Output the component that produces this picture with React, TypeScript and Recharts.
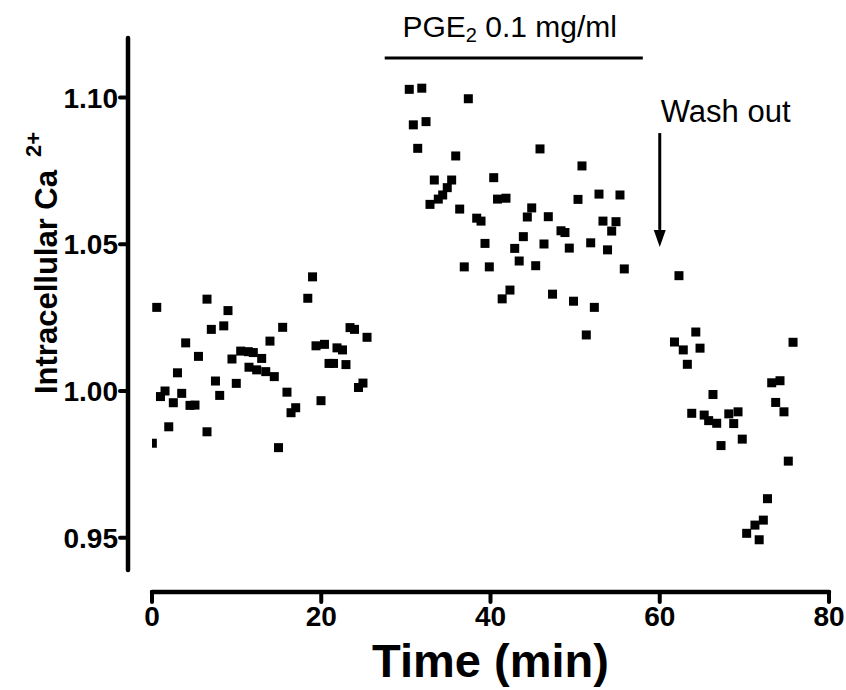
import { Label, ReferenceLine, Scatter, ScatterChart, XAxis, YAxis } from "recharts";

// baseline period (min / normalised Ca2+ ratio)
const baselineTime = [
  0.04, 0.56, 1.0, 1.54, 1.98, 2.52, 3.01, 3.51, 3.98, 4.49, 5.08, 5.49, 6.5, 6.5, 7.01, 7.5, 8.0,
  8.48, 8.98, 9.45, 9.96, 10.48, 11.38, 11.46, 11.97, 12.37, 12.96, 13.44, 13.94, 14.45, 14.95,
  15.44, 15.95, 16.43, 16.98, 18.41, 18.97, 19.38, 19.97, 20.38, 20.92, 21.45, 21.86, 22.51, 22.92,
  23.4, 23.93, 24.4, 24.93, 25.41,
];
const baselineCa = [
  0.9822, 1.0285, 0.9981, 1.0, 0.9878, 0.996, 1.0062, 0.9992, 1.0164, 0.9951, 0.9952, 1.0118,
  1.0313, 0.9861, 1.021, 1.0034, 0.9985, 1.0222, 1.0274, 1.0109, 1.0026, 1.0136, 1.0134, 1.0081,
  1.0131, 1.0072, 1.0111, 1.0066, 1.017, 1.0049, 0.9807, 1.0217, 0.9996, 0.9926, 0.9943, 1.0316,
  1.0389, 1.0154, 0.9967, 1.0159, 1.0094, 1.0094, 1.0147, 1.014, 1.009, 1.0216, 1.021, 1.0012,
  1.0027, 1.0183,
];

// PGE2 0.1 mg/ml
const pgeTime = [
  30.4, 30.88, 31.4, 31.88, 32.38, 32.85, 33.36, 33.83, 34.35, 34.89, 35.41, 35.89, 36.36, 36.9,
  37.38, 38.37, 38.88, 39.35, 39.86, 40.38, 40.83, 41.38, 41.83, 42.3, 42.86, 43.39, 43.88, 44.35,
  44.87, 45.34, 45.85, 46.32, 46.83, 47.33, 48.33, 48.8, 49.31, 49.81, 50.34, 50.81, 51.32, 51.84,
  52.27, 52.82, 53.29, 53.83, 54.32, 54.83, 55.3, 55.81,
];
const pgeCa = [
  1.1028, 1.0907, 1.0827, 1.1032, 1.0918, 1.0636, 1.0719, 1.0654, 1.0668, 1.0693, 1.0719, 1.0801,
  1.062, 1.0423, 1.0996, 1.0589, 1.0579, 1.0503, 1.0423, 1.0727, 1.0654, 1.0314, 1.0657, 1.0344,
  1.0486, 1.0443, 1.0526, 1.0593, 1.0624, 1.0427, 1.0825, 1.0501, 1.0594, 1.033, 1.0546, 1.054,
  1.0487, 1.0306, 1.0653, 1.0767, 1.0191, 1.0505, 1.0285, 1.0671, 1.0579, 1.0481, 1.0545, 1.0577,
  1.0668, 1.0416,
];

// wash out
const washTime = [
  61.74, 62.27, 62.78, 63.26, 63.78, 64.26, 64.76, 65.25, 65.78, 66.29, 66.73, 67.24, 68.16, 68.74,
  69.25, 69.75, 70.27, 71.25, 71.75, 72.24, 72.73, 73.23, 73.7, 74.21, 74.68, 75.19, 75.75,
];
const washCa = [
  1.0167, 1.0393, 1.014, 1.0091, 0.9924, 1.0201, 1.0146, 0.9918, 0.9899, 0.9988, 0.989, 0.9814,
  0.9922, 0.9889, 0.9929, 0.9836, 0.9515, 0.9543, 0.9493, 0.956, 0.9633, 1.0028, 0.9961, 1.0035,
  0.9929, 0.9761, 1.0166,
];

const xTicks = [0, 20, 40, 60, 80];
const yTicks = [0.95, 1.0, 1.05, 1.1];

const X_DOMAIN = [0, 80];
const Y_DOMAIN = [0.9315, 1.1203];
const Y_AXIS_BOTTOM = 0.939;
const PGE_START = 27.5;
const PGE_END = 58;
const PGE_LEVEL = 1.1135;
const WASH_AT = 60;
const ARROW_FROM = 1.0879;
const ARROW_TO = 1.0491;

const FONT = "'Liberation Sans', Arial, sans-serif";
const AXIS_GAP = 24; // y axis sits left of x = 0, Prism style

const points = [
  ...baselineTime.map((t, i) => ({ t, ca: baselineCa[i] })),
  ...pgeTime.map((t, i) => ({ t, ca: pgeCa[i] })),
  ...washTime.map((t, i) => ({ t, ca: washCa[i] })),
];

function SquareDot(props: any) {
  const { cx, cy } = props;
  if (cx == null || cy == null) return null;
  return <rect x={cx - 4.5} y={cy - 4.5} width={9} height={9} fill="#000" />;
}

function YTick({ x, y, payload }: any) {
  const ax = x - AXIS_GAP;
  return (
    <g>
      <line x1={ax - 8} x2={ax} y1={y} y2={y} stroke="#000" strokeWidth={4} strokeLinecap="round" />
      <text
        x={ax - 10}
        y={y}
        dy="0.36em"
        textAnchor="end"
        fontFamily={FONT}
        fontWeight={700}
        fontSize={28}
        fill="#000"
      >
        {Number(payload.value).toFixed(2)}
      </text>
    </g>
  );
}

function YTitle({ viewBox }: any) {
  const cx = viewBox.x + 14;
  const bottom = 394;
  return (
    <text
      transform={`translate(${cx}, ${bottom}) rotate(-90)`}
      textAnchor="start"
      dy="0.36em"
      fontFamily={FONT}
      fontWeight={700}
      fontSize={31}
      fill="#000"
    >
      Intracellular Ca
      <tspan fontSize={22} dx={13} dy={-16}>
        2+
      </tspan>
    </text>
  );
}

function YAxisLine(p: any) {
  return (
    <line
      x1={p.x1 - AXIS_GAP}
      x2={p.x2 - AXIS_GAP}
      y1={p.y1}
      y2={p.y2}
      stroke="#000"
      strokeWidth={4.5}
      strokeLinecap="round"
    />
  );
}

function PgeBar(p: any) {
  const mid = (p.x1 + p.x2) / 2;
  return (
    <g>
      <line x1={p.x1} x2={p.x2} y1={p.y1} y2={p.y2} stroke="#000" strokeWidth={3} />
      <text x={mid - 4} y={p.y1 - 21} textAnchor="middle" fontFamily={FONT} fontSize={30} fill="#000">
        PGE
        <tspan fontSize={20} dy={5}>
          2
        </tspan>
        <tspan dy={-5}> 0.1 mg/ml</tspan>
      </text>
    </g>
  );
}

function WashArrow(p: any) {
  const head = 17;
  return (
    <g>
      <line x1={p.x1} x2={p.x2} y1={p.y1} y2={p.y2 - head} stroke="#000" strokeWidth={3} />
      <polygon
        points={`${p.x2 - 6},${p.y2 - head} ${p.x2 + 6},${p.y2 - head} ${p.x2},${p.y2}`}
        fill="#000"
      />
      <text x={p.x1 + 1} y={p.y1 - 11} fontFamily={FONT} fontSize={31} fill="#000">
        Wash out
      </text>
    </g>
  );
}

export default function App() {
  return (
    <div style={{ position: "absolute", left: 0, top: 0, background: "#fff" }}>
      <ScatterChart width={846} height={690} margin={{ top: 38, right: 17, bottom: 8, left: 32 }}>
        <XAxis
          type="number"
          dataKey="t"
          domain={X_DOMAIN}
          ticks={xTicks}
          allowDataOverflow
          height={90}
          axisLine={{ stroke: "#000", strokeWidth: 4.5, strokeLinecap: "round" }}
          tickLine={{ stroke: "#000", strokeWidth: 4, strokeLinecap: "round" }}
          tickSize={10}
          tickMargin={4}
          tick={{ fill: "#000", fontSize: 28, fontWeight: 700, fontFamily: FONT }}
        >
          <Label
            value="Time (min)"
            position="insideBottom"
            offset={5}
            style={{ fill: "#000", fontSize: 47, fontWeight: 700, fontFamily: FONT }}
          />
        </XAxis>
        <YAxis
          type="number"
          dataKey="ca"
          domain={Y_DOMAIN}
          ticks={yTicks}
          allowDataOverflow
          width={120}
          axisLine={false}
          tickLine={false}
          tickSize={0}
          tickMargin={0}
          tick={<YTick />}
        >
          <Label content={<YTitle />} />
        </YAxis>
        <ReferenceLine
          segment={[
            { x: 0, y: Y_AXIS_BOTTOM },
            { x: 0, y: Y_DOMAIN[1] },
          ]}
          ifOverflow="visible"
          shape={YAxisLine}
        />
        <ReferenceLine
          segment={[
            { x: PGE_START, y: PGE_LEVEL },
            { x: PGE_END, y: PGE_LEVEL },
          ]}
          ifOverflow="visible"
          shape={PgeBar}
        />
        <ReferenceLine
          segment={[
            { x: WASH_AT, y: ARROW_FROM },
            { x: WASH_AT, y: ARROW_TO },
          ]}
          ifOverflow="visible"
          shape={WashArrow}
        />
        <Scatter data={points} fill="#000" shape={SquareDot} isAnimationActive={false} />
      </ScatterChart>
    </div>
  );
}
